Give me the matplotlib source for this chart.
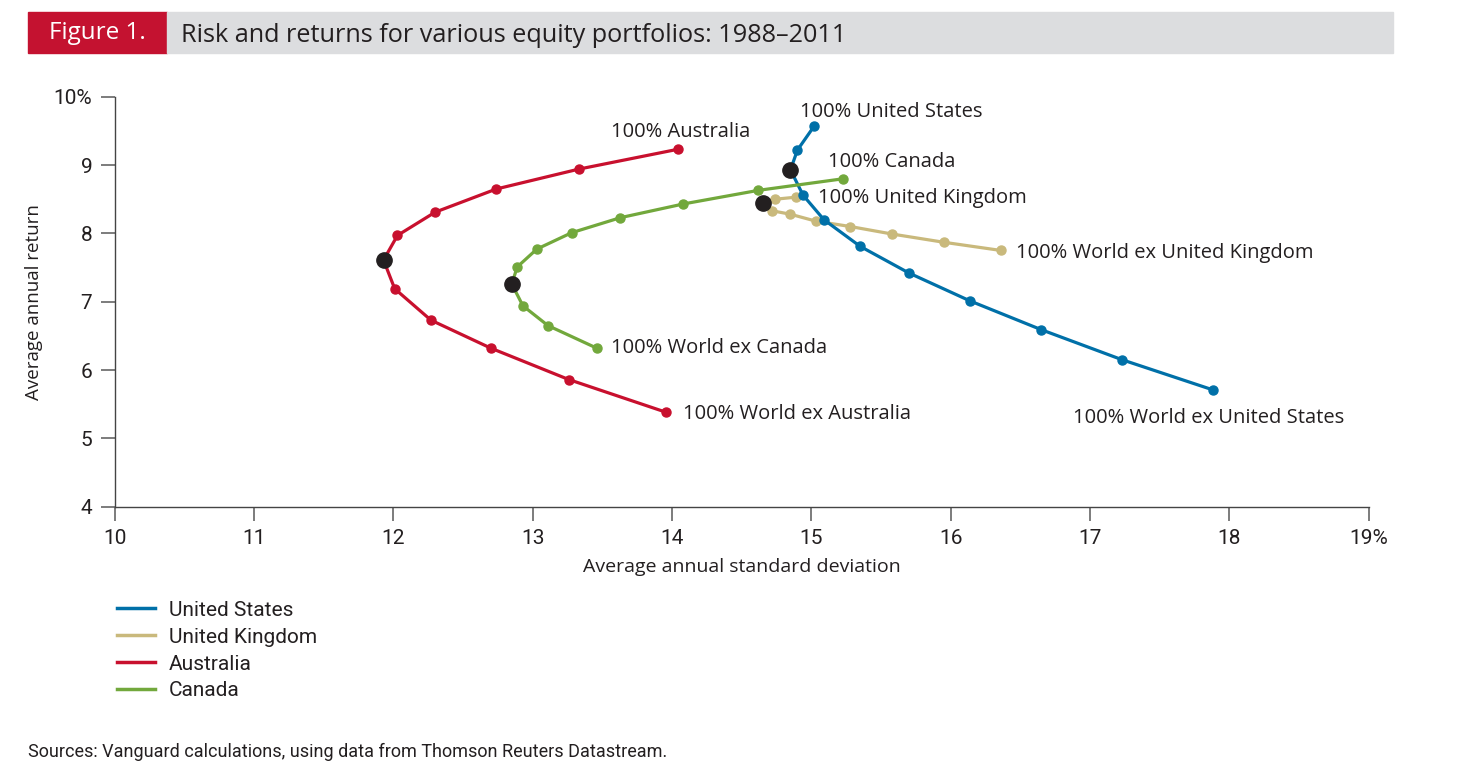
import matplotlib.pyplot as plt
from matplotlib.lines import Line2D
from matplotlib.patches import Rectangle

# data: (std dev, return) for each portfolio mix
us_sd = [15.02, 14.90, 14.85, 14.94, 15.09, 15.35, 15.70, 16.14, 16.65, 17.23, 17.88]
us_ret = [9.57, 9.22, 8.93, 8.56, 8.20, 7.81, 7.42, 7.01, 6.59, 6.15, 5.71]
us_min = 2

uk_sd = [14.89, 14.74, 14.65, 14.72, 14.85, 15.03, 15.28, 15.58, 15.95, 16.36]
uk_ret = [8.53, 8.50, 8.45, 8.33, 8.28, 8.18, 8.10, 7.99, 7.87, 7.75]
uk_min = 2

au_sd = [14.04, 13.33, 12.74, 12.30, 12.03, 11.93, 12.01, 12.27, 12.70, 13.26, 13.96]
au_ret = [9.23, 8.94, 8.65, 8.31, 7.97, 7.61, 7.19, 6.73, 6.32, 5.86, 5.38]
au_min = 5

ca_sd = [15.23, 14.62, 14.08, 13.63, 13.28, 13.03, 12.89, 12.85, 12.93, 13.11, 13.46]
ca_ret = [8.80, 8.63, 8.43, 8.23, 8.01, 7.77, 7.51, 7.26, 6.94, 6.65, 6.32]
ca_min = 7

# label text and where it sits (data coords)
labels = [
    ('100% United States', 14.92, 9.78),
    ('100% Australia', 13.56, 9.49),
    ('100% Canada', 15.12, 9.05),
    ('100% United Kingdom', 15.05, 8.52),
    ('100% World ex United Kingdom', 16.47, 7.72),
    ('100% World ex Canada', 13.56, 6.32),
    ('100% World ex Australia', 14.08, 5.36),
    ('100% World ex United States', 16.88, 5.30),
]

blue = '#0070a8'
tan = '#c9b97c'
red = '#c8102e'
green = '#72a83c'
dark = '#231f20'

cond = ['Roboto', 'DejaVu Sans']
wide = ['Open Sans', 'DejaVu Sans']

fig = plt.figure(figsize=(14.84, 7.72), dpi=100)
ax = fig.add_axes([0.0772, 0.3437, 0.8452, 0.5310])

series = [
    (uk_sd, uk_ret, uk_min, tan),
    (us_sd, us_ret, us_min, blue),
    (au_sd, au_ret, au_min, red),
    (ca_sd, ca_ret, ca_min, green),
]
for sd, ret, mi, col in series:
    ax.plot(sd, ret, color=col, lw=2.3, marker='o', ms=6.5, mec=col, mfc=col, zorder=2)
    ax.plot(sd[mi], ret[mi], 'o', color=dark, ms=11, zorder=4)

for txt, x, y in labels:
    ax.text(x, y, txt, fontsize=14.5, family=wide, color=dark, va='center', ha='left')

ax.set_xlim(10, 19)
ax.set_ylim(4, 10)
ax.set_xticks(range(10, 20))
ax.set_xticklabels([str(v) for v in range(10, 19)] + ['19%'])
ax.set_yticks(range(4, 11))
ax.set_yticklabels([str(v) for v in range(4, 10)] + ['10%'])
for s in ['top', 'right']:
    ax.spines[s].set_visible(False)
for s in ['left', 'bottom']:
    ax.spines[s].set_color('#444444')
    ax.spines[s].set_linewidth(1.0)
ax.tick_params(length=10, width=1.2, color='#666666', labelsize=15, labelcolor=dark, pad=6)
for t in ax.get_xticklabels() + ax.get_yticklabels():
    t.set_family(cond)
ax.set_xlabel('Average annual standard deviation', fontsize=14, family=wide, color=dark)
ax.set_ylabel('Average annual return', fontsize=13.5, family=wide, color=dark)
ax.xaxis.set_label_coords(0.5, -0.126)
ax.yaxis.set_label_coords(-0.057, 0.5)

# header band
fig.patches.append(Rectangle((28 / 1484, 1 - 53 / 772), 139 / 1484, 41 / 772,
                             transform=fig.transFigure, color='#c41230', zorder=0))
fig.patches.append(Rectangle((167 / 1484, 1 - 53 / 772), 1226 / 1484, 41 / 772,
                             transform=fig.transFigure, color='#dcdddf', zorder=0))
fig.text(97 / 1484, 1 - 33 / 772, 'Figure 1.', color='white', fontsize=17.5, family=wide,
         ha='center', va='center')
fig.text(181 / 1484, 1 - 35 / 772, 'Risk and returns for various equity portfolios: 1988\u20132011',
         color=dark, fontsize=18.2, family=wide, ha='left', va='center')

# legend
handles = [Line2D([], [], color=c, lw=2.5) for c in [blue, tan, red, green]]
leg = fig.legend(handles, ['United States', 'United Kingdom', 'Australia', 'Canada'],
                 loc='upper left', bbox_to_anchor=(98 / 1484, 1 - 582 / 772), frameon=False,
                 handlelength=1.85, handletextpad=0.65, labelspacing=0.38,
                 prop={'family': cond, 'size': 15})
for t in leg.get_texts():
    t.set_color(dark)

fig.text(28 / 1484, 1 - 752 / 772, 'Sources: Vanguard calculations, using data from Thomson Reuters Datastream.',
         fontsize=13, family=cond, color=dark, ha='left', va='center')

fig.savefig('out.png', dpi=100)
